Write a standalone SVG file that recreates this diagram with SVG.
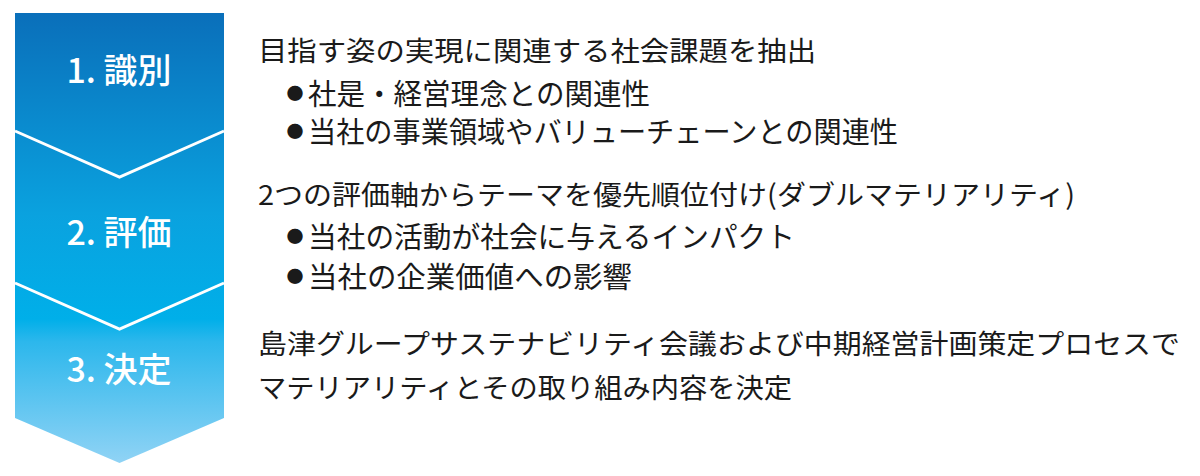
<svg xmlns="http://www.w3.org/2000/svg" width="1200" height="476" viewBox="0 0 1200 476">
<defs>
<linearGradient id="g" gradientUnits="userSpaceOnUse" x1="0" y1="13" x2="0" y2="463">
<stop offset="0" stop-color="#0a6fba"/>
<stop offset="0.45" stop-color="#0aa2df"/>
<stop offset="0.68" stop-color="#00afe9"/>
<stop offset="0.73" stop-color="#2cb7ec"/>
<stop offset="1" stop-color="#90d3f5"/>
</linearGradient>
<style>
.lbl{font-family:"Noto Sans CJK JP","Noto Sans",sans-serif;font-size:34px;font-weight:500;fill:#ffffff;text-anchor:middle}
.hd{font-family:"Noto Sans CJK JP","Noto Sans",sans-serif;font-size:27.5px;fill:#1a1a1a}
.bt{font-family:"Noto Sans CJK JP","Noto Sans",sans-serif;font-size:29px;fill:#1a1a1a}
.dot{font-family:"Noto Sans CJK JP","Noto Sans",sans-serif;font-size:17px;fill:#1a1a1a;text-anchor:middle}
.sep{fill:none;stroke:#ffffff;stroke-width:3}
</style>
</defs>
<g id="chevron">
<polygon points="15,13 224,13 224,418 119.5,463 15,418" fill="url(#g)"/>
</g>
<g id="connectors">
<polyline class="sep" points="15,131 119.5,177 224,131"/>
<polyline class="sep" points="15,283 119.5,329 224,283"/>
</g>
<g id="step1">
<text class="lbl" x="119" y="83">1. 識別</text>
</g>
<g id="step2">
<text class="lbl" x="119" y="245">2. 評価</text>
</g>
<g id="step3">
<text class="lbl" x="119" y="382">3. 決定</text>
</g>
<g id="desc1">
<text class="hd" x="258" y="61" textLength="558" lengthAdjust="spacingAndGlyphs">目指す姿の実現に関連する社会課題を抽出</text>
<text class="dot" x="295" y="100">●</text>
<text class="bt" x="308" y="105" textLength="342" lengthAdjust="spacingAndGlyphs">社是・経営理念との関連性</text>
<text class="dot" x="295" y="138">●</text>
<text class="bt" x="308" y="143" textLength="590" lengthAdjust="spacingAndGlyphs">当社の事業領域やバリューチェーンとの関連性</text>
</g>
<g id="desc2">
<text class="hd" x="258" y="205" textLength="817" lengthAdjust="spacingAndGlyphs">2つの評価軸からテーマを優先順位付け(ダブルマテリアリティ)</text>
<text class="dot" x="295" y="243">●</text>
<text class="bt" x="308" y="248" textLength="487" lengthAdjust="spacingAndGlyphs">当社の活動が社会に与えるインパクト</text>
<text class="dot" x="295" y="283">●</text>
<text class="bt" x="308" y="288" textLength="324" lengthAdjust="spacingAndGlyphs">当社の企業価値への影響</text>
</g>
<g id="desc3">
<text class="hd" x="258" y="354" textLength="922" lengthAdjust="spacingAndGlyphs">島津グループサステナビリティ会議および中期経営計画策定プロセスで</text>
<text class="hd" x="258" y="398" textLength="534" lengthAdjust="spacingAndGlyphs">マテリアリティとその取り組み内容を決定</text>
</g>
</svg>
